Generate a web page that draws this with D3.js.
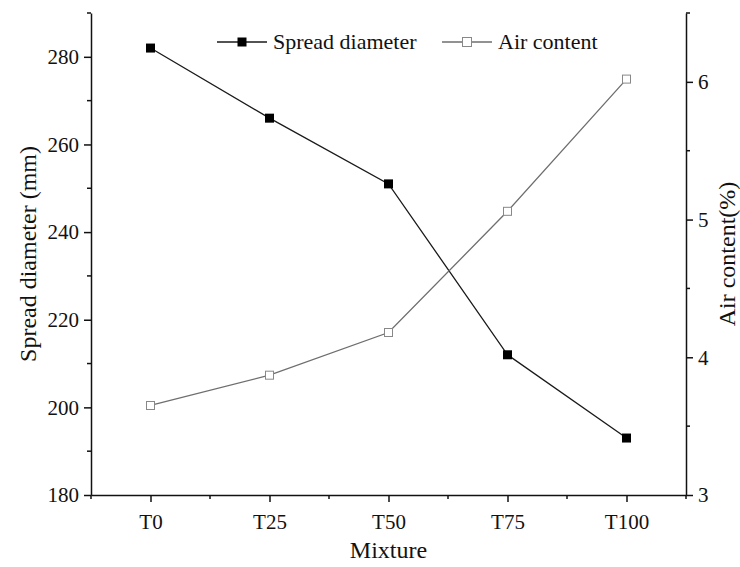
<!DOCTYPE html>
<html>
<head>
<meta charset="utf-8">
<script src="https://cdn.jsdelivr.net/npm/d3@7"></script>
<style>
  body { margin: 0; background: #fff; }
  text { font-family: "Liberation Serif", "DejaVu Serif", serif !important; fill: #111; }
</style>
</head>
<body>
<div id="chart"></div>
<script>
const mixtures = ["T0", "T25", "T50", "T75", "T100"];
const spreadDiameter = [282, 266, 251, 212, 193];
const airContent = [3.65, 3.87, 4.18, 5.06, 6.02];
const leftTicks = [180, 200, 220, 240, 260, 280];
const rightTicks = [3, 4, 5, 6];

const FONT = "Liberation Serif, DejaVu Serif, serif";
const width = 740, height = 567;
const margin = { top: 13, right: 54, bottom: 72, left: 91 };
const plotW = width - margin.left - margin.right;
const plotH = height - margin.top - margin.bottom;

const svg = d3.select("#chart").append("svg")
  .attr("width", width).attr("height", height)
  .attr("font-family", FONT);

const g = svg.append("g").attr("transform", `translate(${margin.left},${margin.top})`);

const x = d3.scalePoint().domain(mixtures).range([0, plotW]).padding(0.5);
const yL = d3.scaleLinear().domain([180, 290]).range([plotH, 0]);
const yR = d3.scaleLinear().domain([3, 6.5]).range([plotH, 0]);

// minor ticks
const step = x.step();
const xMinor = d3.range(0, mixtures.length + 1).map(i => i * step);
g.append("g").selectAll("line").data(xMinor).join("line")
  .attr("x1", d => d).attr("x2", d => d)
  .attr("y1", plotH).attr("y2", plotH + 4)
  .attr("stroke", "#111").attr("stroke-width", 1.5);

g.append("g").selectAll("line").data(d3.range(190, 291, 20)).join("line")
  .attr("x1", -4).attr("x2", 0)
  .attr("y1", d => yL(d)).attr("y2", d => yL(d))
  .attr("stroke", "#111").attr("stroke-width", 1.5);

g.append("g").selectAll("line").data([3.5, 4.5, 5.5, 6.5]).join("line")
  .attr("x1", plotW).attr("x2", plotW + 4)
  .attr("y1", d => yR(d)).attr("y2", d => yR(d))
  .attr("stroke", "#111").attr("stroke-width", 1.5);

const xAxis = g.append("g").attr("transform", `translate(0,${plotH})`)
  .call(d3.axisBottom(x).tickSize(7).tickPadding(12).tickSizeOuter(0));
const leftAxis = g.append("g")
  .call(d3.axisLeft(yL).tickValues(leftTicks).tickSize(7).tickPadding(5).tickSizeOuter(0));
const rightAxis = g.append("g").attr("transform", `translate(${plotW},0)`)
  .call(d3.axisRight(yR).tickValues(rightTicks).tickFormat(d3.format("d")).tickSize(7).tickPadding(5).tickSizeOuter(0));

[xAxis, leftAxis, rightAxis].forEach(a => {
  a.attr("font-family", FONT).attr("font-size", 21);
  a.selectAll("path, line").attr("stroke", "#111").attr("stroke-width", 1.5);
  a.selectAll("text").attr("fill", "#111");
});

// axis titles
svg.append("text")
  .attr("transform", `translate(36,${margin.top + plotH / 2}) rotate(-90)`)
  .attr("text-anchor", "middle").attr("font-size", 24)
  .text("Spread diameter (mm)");
svg.append("text")
  .attr("transform", `translate(735,${margin.top + plotH / 2}) rotate(-90)`)
  .attr("text-anchor", "middle").attr("font-size", 24)
  .text("Air content(%)");
svg.append("text")
  .attr("x", margin.left + plotW / 2).attr("y", 558)
  .attr("text-anchor", "middle").attr("font-size", 24)
  .text("Mixture");

// lines
const spreadLine = d3.line().x((d, i) => x(mixtures[i])).y(d => yL(d));
const airLine = d3.line().x((d, i) => x(mixtures[i])).y(d => yR(d));

g.append("path").datum(spreadDiameter).attr("d", spreadLine)
  .attr("fill", "none").attr("stroke", "#1a1a1a").attr("stroke-width", 1.3);
g.append("path").datum(airContent).attr("d", airLine)
  .attr("fill", "none").attr("stroke", "#6e6e6e").attr("stroke-width", 1.3);

const ms = 9;
g.append("g").selectAll("rect").data(spreadDiameter).join("rect")
  .attr("x", (d, i) => x(mixtures[i]) - ms / 2).attr("y", d => yL(d) - ms / 2)
  .attr("width", ms).attr("height", ms).attr("fill", "#000");
g.append("g").selectAll("rect").data(airContent).join("rect")
  .attr("x", (d, i) => x(mixtures[i]) - ms / 2 + 0.5).attr("y", d => yR(d) - ms / 2 + 0.5)
  .attr("width", ms - 1).attr("height", ms - 1)
  .attr("fill", "#fff").attr("stroke", "#888").attr("stroke-width", 1);

// legend
const legend = svg.append("g").attr("transform", "translate(0,42)");
const items = [
  { label: "Spread diameter", x: 217, fill: "#000", stroke: "none", line: "#1a1a1a" },
  { label: "Air content", x: 442, fill: "#fff", stroke: "#888", line: "#6e6e6e" }
];
items.forEach(it => {
  const li = legend.append("g").attr("transform", `translate(${it.x},0)`);
  li.append("line").attr("x1", 0).attr("x2", 50).attr("y1", 0).attr("y2", 0)
    .attr("stroke", it.line).attr("stroke-width", 1.3);
  li.append("rect").attr("x", 25 - ms / 2).attr("y", -ms / 2).attr("width", ms).attr("height", ms)
    .attr("fill", it.fill).attr("stroke", it.stroke);
  li.append("text").attr("x", 56).attr("y", 7).attr("font-size", 22).text(it.label);
});
</script>
</body>
</html>
